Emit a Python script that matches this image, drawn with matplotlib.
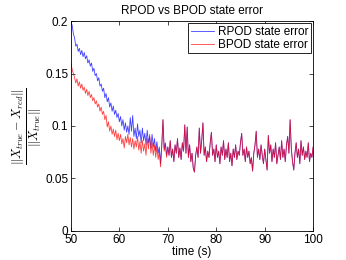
import numpy as np
import matplotlib
matplotlib.use('Agg')
import matplotlib.pyplot as plt

# early part (50 - 69.75 s, every 0.25 s), the two errors differ here
t_early = np.arange(50, 70, 0.25)
rpod_early = [0.199, 0.196, 0.188, 0.184, 0.176, 0.178, 0.171, 0.174,
              0.168, 0.172, 0.166, 0.170, 0.164, 0.167, 0.160, 0.163,
              0.157, 0.160, 0.152, 0.155, 0.148, 0.150, 0.143, 0.146,
              0.138, 0.140, 0.133, 0.136, 0.127, 0.131, 0.123, 0.127,
              0.118, 0.122, 0.114, 0.119, 0.111, 0.115, 0.108, 0.112,
              0.104, 0.109, 0.100, 0.106, 0.096, 0.103, 0.094, 0.100,
              0.092, 0.108, 0.095, 0.110, 0.090, 0.098, 0.088, 0.102,
              0.090, 0.096, 0.084, 0.098, 0.086, 0.093, 0.082, 0.096,
              0.084, 0.090, 0.079, 0.092, 0.080, 0.088, 0.076, 0.085,
              0.074, 0.080, 0.064, 0.082, 0.106, 0.078, 0.084, 0.072]
bpod_early = [0.160, 0.154, 0.150, 0.146, 0.141, 0.145, 0.138, 0.142,
              0.136, 0.140, 0.134, 0.137, 0.131, 0.135, 0.129, 0.133,
              0.127, 0.130, 0.124, 0.127, 0.121, 0.124, 0.118, 0.121,
              0.114, 0.118, 0.111, 0.114, 0.106, 0.110, 0.099, 0.104,
              0.095, 0.100, 0.092, 0.097, 0.090, 0.096, 0.087, 0.093,
              0.086, 0.092, 0.083, 0.088, 0.079, 0.090, 0.084, 0.092,
              0.082, 0.089, 0.080, 0.088, 0.078, 0.086, 0.080, 0.090,
              0.077, 0.085, 0.074, 0.086, 0.076, 0.083, 0.072, 0.088,
              0.078, 0.092, 0.074, 0.084, 0.072, 0.082, 0.070, 0.080,
              0.068, 0.076, 0.061, 0.080, 0.106, 0.076, 0.082, 0.070]

# late part (70 - 100 s), both curves lie on top of each other
t_late = np.arange(70, 100.01, 0.25)
shared_late = [0.080, 0.072, 0.086, 0.070, 0.078, 0.066, 0.082, 0.074,
               0.088, 0.070, 0.079, 0.068, 0.084, 0.076, 0.101, 0.074,
               0.099, 0.070, 0.082, 0.066, 0.074, 0.060, 0.056, 0.072,
               0.080, 0.070, 0.098, 0.074, 0.086, 0.103, 0.072, 0.080,
               0.066, 0.076, 0.070, 0.084, 0.094, 0.072, 0.078, 0.066,
               0.082, 0.070, 0.076, 0.064, 0.080, 0.072, 0.086, 0.068,
               0.078, 0.070, 0.084, 0.066, 0.074, 0.062, 0.078, 0.070,
               0.082, 0.068, 0.076, 0.072, 0.084, 0.093, 0.072, 0.078,
               0.066, 0.080, 0.070, 0.076, 0.064, 0.070, 0.057, 0.074,
               0.082, 0.095, 0.070, 0.078, 0.068, 0.082, 0.072, 0.064,
               0.078, 0.068, 0.058, 0.091, 0.074, 0.082, 0.066, 0.078,
               0.070, 0.084, 0.064, 0.072, 0.080, 0.068, 0.086, 0.070,
               0.078, 0.066, 0.082, 0.090, 0.074, 0.106, 0.078, 0.066,
               0.058, 0.074, 0.084, 0.070, 0.078, 0.064, 0.086, 0.072,
               0.080, 0.068, 0.076, 0.070, 0.084, 0.066, 0.074, 0.070,
               0.080]

t = np.concatenate([t_early, t_late])
rpod = np.concatenate([rpod_early, shared_late])
bpod = np.concatenate([bpod_early, shared_late])

plt.rcParams['font.family'] = ['Liberation Sans', 'DejaVu Sans']
plt.rcParams['mathtext.fontset'] = 'cm'

fig = plt.figure(figsize=(3.46, 2.6), dpi=100)
ax = fig.add_axes([0.205, 0.112, 0.700, 0.807])

ax.plot(t, rpod, color='#0000ff', lw=0.6, alpha=0.75, label='RPOD state error')
ax.plot(t, bpod, color='#ff0000', lw=0.6, alpha=0.75, label='BPOD state error')

ax.set_xlim(50, 100)
ax.set_ylim(0, 0.2)
ax.set_xticks([50, 60, 70, 80, 90, 100])
ax.set_yticks([0, 0.05, 0.1, 0.15, 0.2])
ax.set_yticklabels(['0', '0.05', '0.1', '0.15', '0.2'])
ax.tick_params(direction='in', top=True, right=True, labelsize=8.5,
               length=3, width=0.5, pad=2)
for s in ax.spines.values():
    s.set_linewidth(0.6)

ax.set_title('RPOD vs BPOD state error', fontsize=8.5, pad=5)
ax.set_xlabel('time (s)', fontsize=8.5, labelpad=0)
ax.set_ylabel(r'$\frac{\|X_{true}-X_{red}\|}{\|X_{true}\|}$', fontsize=12.5, labelpad=1)

leg = ax.legend(loc='upper right', fontsize=8.5, fancybox=False, framealpha=1,
                edgecolor='black', borderpad=0.2, labelspacing=0.1,
                handlelength=2.0, handletextpad=0.3, borderaxespad=0.2)
leg.get_frame().set_linewidth(0.6)

fig.savefig('out.png', dpi=100)
